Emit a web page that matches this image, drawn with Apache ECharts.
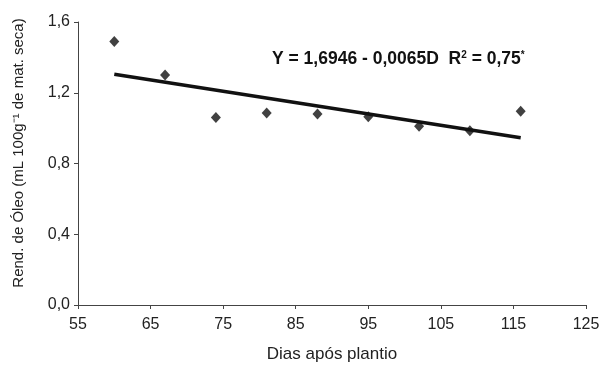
<!DOCTYPE html>
<html>
<head>
<meta charset="utf-8">
<script src="https://cdn.jsdelivr.net/npm/echarts@6/dist/echarts.min.js"></script>
<style>
  html, body { margin: 0; padding: 0; background: #fff; }
  #chart { width: 603px; height: 368px; }
</style>
</head>
<body>
<div id="chart"></div>
<script>
// dias após plantio e rendimento de óleo observado
const dias = [60, 67, 74, 81, 88, 95, 102, 109, 116]
const rendimento = [1.49, 1.30, 1.06, 1.085, 1.08, 1.065, 1.01, 0.985, 1.095]

// reta ajustada (extremos)
const retaX = [60, 116]
const retaY = [1.305, 0.945]

const xTicks = [55, 65, 75, 85, 95, 105, 115, 125]
const yTicks = [0, 0.4, 0.8, 1.2, 1.6]

const fmt = v => v.toFixed(1).replace('.', ',')
const font = 'Liberation Sans'

const chart = echarts.init(document.getElementById('chart'))
chart.setOption({
  animation: false,
  grid: { left: 78, right: 17, top: 22, bottom: 61 },
  xAxis: {
    type: 'value',
    min: xTicks[0],
    max: xTicks[xTicks.length - 1],
    interval: 10,
    name: 'Dias após plantio',
    nameLocation: 'middle',
    nameGap: 41,
    nameTextStyle: { fontFamily: font, fontSize: 17, color: '#222' },
    axisLine: { lineStyle: { color: '#444', width: 1 } },
    axisTick: { show: true, length: 4, lineStyle: { color: '#444' } },
    axisLabel: { fontFamily: font, fontSize: 16, color: '#222', margin: 12 },
    splitLine: { show: false }
  },
  yAxis: {
    type: 'value',
    min: yTicks[0],
    max: yTicks[yTicks.length - 1],
    interval: 0.4,
    axisLine: { show: true, lineStyle: { color: '#444', width: 1 } },
    axisTick: { show: true, length: 4, lineStyle: { color: '#444' } },
    axisLabel: { fontFamily: font, fontSize: 16, color: '#222', margin: 8, formatter: fmt },
    splitLine: { show: false }
  },
  series: [
    {
      type: 'line',
      data: retaX.map((x, i) => [x, retaY[i]]),
      symbol: 'none',
      lineStyle: { color: '#111', width: 3.5 },
      z: 2
    },
    {
      type: 'scatter',
      data: dias.map((d, i) => [d, rendimento[i]]),
      symbol: 'diamond',
      symbolSize: [10, 11],
      itemStyle: { color: '#111' },
      z: 3
    }
  ],
  graphic: [
    {
      type: 'text',
      x: 19,
      y: 153,
      rotation: Math.PI / 2,
      style: {
        text: 'Rend. de Óleo (mL 100g⁻¹ de mat. seca)',
        fontFamily: font,
        fontSize: 15,
        fill: '#222',
        align: 'center',
        verticalAlign: 'middle'
      }
    },
    {
      type: 'text',
      left: 272,
      top: 50,
      style: {
        text: '{b|Y = 1,6946 - 0,0065D  R}{s|2}{b| = 0,75}{s|*}',
        rich: {
          b: { fontFamily: font, fontWeight: 'bold', fontSize: 17.5, fill: '#111' },
          s: { fontFamily: font, fontWeight: 'bold', fontSize: 10, fill: '#111', verticalAlign: 'top', padding: [0, 0, 8, 0] }
        }
      }
    }
  ]
})
</script>
</body>
</html>
